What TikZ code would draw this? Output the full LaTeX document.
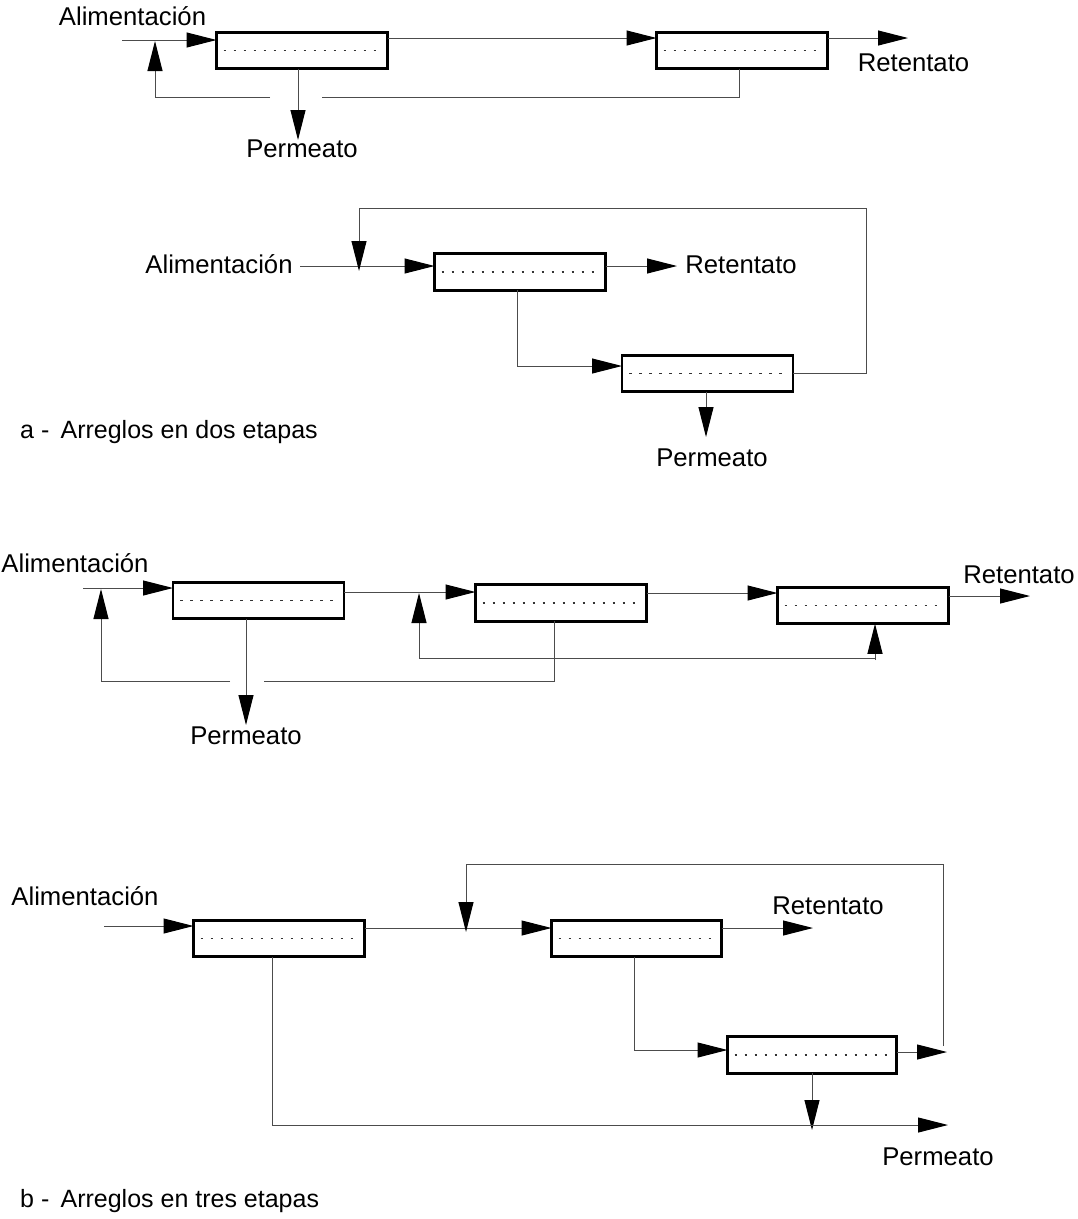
\documentclass[tikz,border=0pt]{standalone}
\usepackage{fontspec}
\setmainfont{Liberation Sans}
\usetikzlibrary{arrows.meta}
\begin{document}
\begin{tikzpicture}[x=1pt,y=-1pt,
  dotline/.style={draw=black!80, line width=1.3pt, dash pattern=on 2.5pt off 7.5pt},
  box/.style={draw=black, line width=2.8pt, rectangle, minimum width=171pt, minimum height=36.5pt,
    inner sep=0pt, outer sep=0pt,
    path picture={\draw[dotline] ([xshift=7pt]path picture bounding box.west) -- ([xshift=-5pt]path picture bounding box.east);}},
  flow/.style={draw=black!70, line width=1pt},
  arr/.style={flow, -{Triangle[length=30pt,width=15pt,color=black]}},
  lab/.style={font=\fontsize{25.7}{30}\selectfont, inner sep=0pt, anchor=base},
  captxt/.style={font=\fontsize{25}{30}\selectfont, inner sep=0pt, anchor=base west}
]
\useasboundingbox (0,0) rectangle (1078,1219);

% ---------- diagram 1 ----------
\node[box] (A) at (302,50.5) {};
\node[box] (B) at (742,50.5) {};
\node[lab] (alim1) at (132.5,25) {Alimentación};
\node[lab] (ret1) at (913.5,71) {Retentato};
\node[lab] (perm1) at (302,157) {Permeato};
\coordinate (a1in) at (122,40);
\coordinate (a1ret) at (908,38);
\coordinate (a1perm) at (298,140);
\coordinate (a1gapR) at (322,97);
\coordinate (a1gapL) at (270,97);
\coordinate (a1rc) at (155,97);
\draw[arr] (a1in) -- (a1in -| A.west);
\draw[arr] (A.east |- a1ret) -- (B.west |- a1ret);
\draw[arr] (B.east |- a1ret) -- (a1ret);
\draw[arr] (a1perm |- A.south) -- (a1perm);
\draw[flow] (B.south -| 739,0) -- (739,97) -- (a1gapR);
\draw[arr] (a1gapL) -- (a1rc) -- (155,41);

% ---------- diagram 2 ----------
\node[box] (C) at (520,272) {};
\node[box] (D) at (707.5,373.5) {};
\node[lab] (alim2) at (219,273) {Alimentación};
\node[lab] (ret2) at (741,273) {Retentato};
\node[lab] (perm2) at (712,466) {Permeato};
\node[captxt] (capa) at (20,438) {a -\hspace{0.45em}Arreglos en dos etapas};
\coordinate (a2in) at (300,266);
\coordinate (a2ret) at (677,266);
\coordinate (a2mid) at (517,366);
\coordinate (a2loop) at (866,373);
\coordinate (a2top) at (359,208);
\draw[arr] (a2in) -- (a2in -| C.west);
\draw[arr] (C.east |- a2ret) -- (a2ret);
\draw[arr] (a2mid |- C.south) -- (a2mid) -- (a2mid -| D.west);
\draw[arr] (D.east |- a2loop) -- (a2loop) -- (866,208) -- (a2top) -- (359,271);
\draw[arr] (D.south -| 706,0) -- (706,437);

% ---------- diagram 3 ----------
\node[box] (E) at (258.5,600.5) {};
\node[box] (F) at (561,603) {};
\node[box] (G) at (863,605.5) {};
\node[lab] (alim3) at (75,572) {Alimentación};
\node[lab] (ret3) at (1019,583) {Retentato};
\node[lab] (perm3) at (246,744) {Permeato};
\coordinate (a3in) at (83,588);
\coordinate (a3ef) at (0,592);
\coordinate (a3fg) at (0,593);
\coordinate (a3ret) at (1030,596);
\coordinate (a3perm) at (246,725);
\coordinate (a3gapR) at (264,681);
\coordinate (a3gapL) at (230,681);
\coordinate (a3rc) at (101,681);
\coordinate (a3r2) at (875,658);
\draw[arr] (a3in) -- (a3in -| E.west);
\draw[arr] (E.east |- a3ef) -- (F.west |- a3ef);
\draw[arr] (F.east |- a3fg) -- (G.west |- a3fg);
\draw[arr] (G.east |- a3ret) -- (a3ret);
\draw[arr] (a3perm |- E.south) -- (a3perm);
\draw[flow] (F.south -| 554,0) -- (554,681) -- (a3gapR);
\draw[arr] (a3gapL) -- (a3rc) -- (101,589);
\draw[arr] (a3r2) -- (419,658) -- (419,593);
\draw[arr] ([yshift=-2pt]a3r2) -- (a3r2 |- G.south);

% ---------- diagram 4 ----------
\node[box] (H) at (279,938.5) {};
\node[box, minimum width=170pt] (I) at (636.5,938.5) {};
\node[box, minimum width=169pt] (J) at (812,1055) {};
\node[lab] (alim4) at (85,905) {Alimentación};
\node[lab] (ret4) at (828,914) {Retentato};
\node[lab] (perm4) at (938,1165) {Permeato};
\node[captxt] (capb) at (20,1207) {b -\hspace{0.45em}Arreglos en tres etapas};
\coordinate (a4in) at (104,926);
\coordinate (a4hi) at (0,928);
\coordinate (a4ret) at (813,928);
\coordinate (a4mid) at (634,1050);
\coordinate (a4out) at (947,1052);
\coordinate (a4up) at (943,1046);
\coordinate (a4top) at (466,864);
\coordinate (a4jp) at (812,1130);
\coordinate (a4hp) at (272,1125);
\coordinate (a4end) at (948,1125);
\draw[arr] (a4in) -- (a4in -| H.west);
\draw[arr] (H.east |- a4hi) -- (I.west |- a4hi);
\draw[arr] (I.east |- a4ret) -- (a4ret);
\draw[arr] (a4mid |- I.south) -- (a4mid) -- (a4mid -| J.west);
\draw[arr] (J.east |- a4out) -- (a4out);
\draw[arr] (a4up) -- (943,864) -- (a4top) -- (466,932);
\draw[arr] (a4jp |- J.south) -- (a4jp);
\draw[arr] (a4hp |- H.south) -- (a4hp) -- (a4end);
\end{tikzpicture}
\end{document}
